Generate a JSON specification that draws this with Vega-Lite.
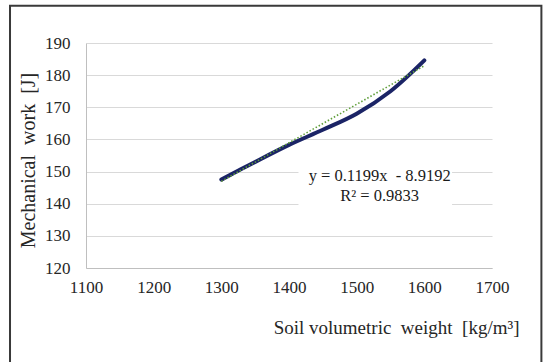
{
  "$schema": "https://vega.github.io/schema/vega-lite/v6.json",
  "width": 406,
  "height": 225,
  "autosize": {"type": "none"},
  "padding": {"left": 86, "top": 43, "right": 53, "bottom": 94},
  "background": "white",
  "config": {
    "view": {"stroke": null},
    "font": "Liberation Serif",
    "axis": {
      "labelFont": "Liberation Serif",
      "titleFont": "Liberation Serif",
      "labelColor": "#262626",
      "titleColor": "#262626",
      "titleFontWeight": "normal",
      "domainColor": "#bfbfbf",
      "gridColor": "#d9d9d9",
      "ticks": false
    }
  },
  "datasets": {
    "curve": [
      {"x": 1300, "y": 147.5},
      {"x": 1350, "y": 153.0},
      {"x": 1400, "y": 158.3},
      {"x": 1450, "y": 163.0},
      {"x": 1500, "y": 168.0},
      {"x": 1550, "y": 175.0},
      {"x": 1600, "y": 184.6}
    ],
    "trend": [
      {"x": 1300, "y": 146.95},
      {"x": 1600, "y": 182.92}
    ],
    "label": [
      {"x": 1534, "y": 148.5, "text": "y = 0.1199x \u00a0- 8.9192"},
      {"x": 1534, "y": 142.3, "text": "R² = 0.9833"}
    ],
    "box": [{"x": 1414, "x2": 1641, "y": 138.6, "y2": 152.3}],
    "frame": [{"x": 987.7, "x2": 1773, "y": 201.6, "y2": 80}]
  },
  "encoding": {
    "x": {"field": "x", "type": "quantitative", "scale": {"domain": [1100, 1700], "nice": false, "zero": false},
      "axis": {"values": [1100, 1200, 1300, 1400, 1500, 1600, 1700], "format": "d", "labelOverlap": false, "labelFlush": false, "grid": false,
        "labelFont": "Liberation Serif", "labelFontSize": 17, "labelPadding": 11,
        "title": "Soil volumetric \u00a0weight \u00a0[kg/m³]", "titleFont": "Liberation Serif", "titleFontSize": 19, "titleAnchor": "start", "titleAlign": "right", "titleBaseline": "middle", "titleX": 433, "titleY": 59}},
    "y": {"field": "y", "type": "quantitative", "scale": {"domain": [120, 190], "nice": false, "zero": false},
      "axis": {"values": [120, 130, 140, 150, 160, 170, 180, 190], "format": "d", "labelOverlap": false, "labelFlush": false, "grid": true,
        "labelFont": "Liberation Serif", "labelFontSize": 17, "labelPadding": 16,
        "title": "Mechanical \u00a0work \u00a0[J]", "titleFont": "Liberation Serif", "titleFontSize": 20, "titleAngle": -90, "titleAlign": "center", "titleBaseline": "middle", "titleX": -58, "titleY": 117}}
  },
  "layer": [
    {
      "data": {"name": "frame"},
      "mark": {"type": "rect", "fill": null, "stroke": "#3a3a3a", "strokeWidth": 2, "clip": false},
      "encoding": {"x2": {"field": "x2"}, "y2": {"field": "y2"}}
    },
    {
      "data": {"name": "box"},
      "mark": {"type": "rect", "fill": "white", "stroke": null},
      "encoding": {"x2": {"field": "x2"}, "y2": {"field": "y2"}}
    },
    {
      "data": {"name": "curve"},
      "mark": {"type": "line", "color": "#1b2466", "strokeWidth": 4, "interpolate": "catmull-rom", "strokeCap": "round"}
    },
    {
      "data": {"name": "trend"},
      "mark": {"type": "line", "color": "#5f9e3a", "strokeWidth": 1.6, "strokeDash": [1.5, 2]}
    },
    {
      "data": {"name": "label"},
      "mark": {"type": "text", "font": "Liberation Serif", "fontSize": 16.5, "color": "#1a1a1a", "align": "center", "baseline": "middle"},
      "encoding": {"text": {"field": "text"}}
    }
  ]
}
